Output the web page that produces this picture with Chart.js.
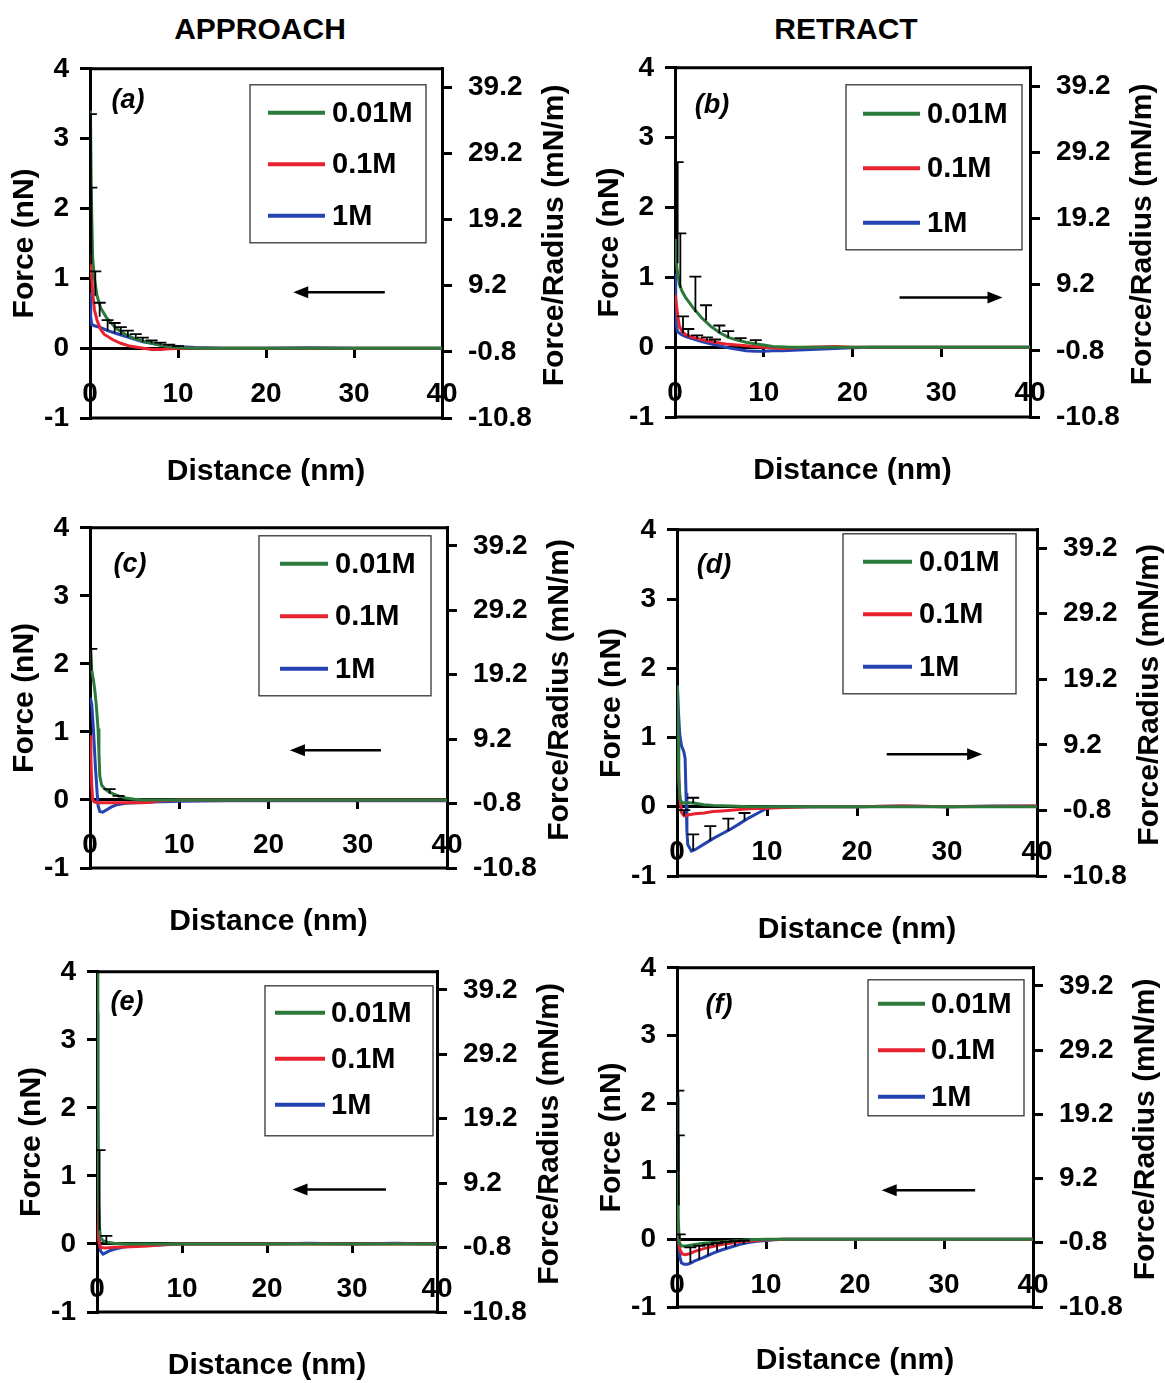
<!DOCTYPE html>
<html>
<head>
<meta charset="utf-8">
<script src="https://cdn.jsdelivr.net/npm/chart.js@4.4.1/dist/chart.umd.min.js"></script>
<style>
  html, body { margin: 0; padding: 0; background: #fff; overflow: hidden; width: 1165px; height: 1383px; }
  canvas { position: absolute; }
  .head { position: absolute; font: bold 30px "Liberation Sans", Arial, sans-serif; color: #000; transform: translateX(-50%); white-space: nowrap; }
</style>
</head>
<body>
<div class="head" style="left:260px; top:12px">APPROACH</div>
<div class="head" style="left:846px; top:12px">RETRACT</div>
<script>
// ---- data ----
const concLabels = ['0.01M', '0.1M', '1M'];
const distTicks = [0, 10, 20, 30, 40];
const forceTicks = [-1, 0, 1, 2, 3, 4];
const radiusTicks = [-10.8, -0.8, 9.2, 19.2, 29.2, 39.2];

// (a) approach
const aGreen = [[0.05,3.4],[0.15,2.2],[0.3,1.3],[0.5,1.0],[0.8,0.75],[1.2,0.58],[1.9,0.43],[3,0.28],[4,0.2],[5,0.14],[6,0.1],[7,0.07],[8,0.04],[9,0.02],[10,0.01],[12,0],[15,0],[20,0],[30,0],[40,0]];
const aRed = [[0.05,1.35],[0.15,1.1],[0.3,0.8],[0.5,0.55],[0.8,0.4],[1.2,0.27],[1.6,0.2],[2.6,0.12],[3.5,0.07],[4.5,0.03],[5.5,0.01],[7,-0.02],[8,-0.02],[9,-0.01],[11,0],[15,0],[20,0],[30,0],[40,0]];
const aBlue = [[0.03,0.8],[0.08,0.45],[0.2,0.34],[0.5,0.32],[1.1,0.3],[2,0.25],[3,0.21],[4,0.17],[5,0.13],[6,0.09],[7,0.07],[8,0.05],[9,0.03],[10.5,0.02],[12,0.01],[15,0],[20,0],[25,0.005],[30,0],[35,0],[40,0]];
const aErr = [[0.1,1.6,3.35],[0.15,1.2,2.3],[0.6,0.75,1.1],[1.1,0.45,0.65],[2,0.25,0.4],[2.8,0.22,0.36],[3.5,0.19,0.3],[4.3,0.16,0.25],[5.2,0.13,0.2],[6,0.09,0.15],[7,0.07,0.11],[8,0.05,0.08],[9,0.03,0.05],[10,0.02,0.03]];

// (b) retract
const bGreen = [[0.03,1.55],[0.1,1.3],[0.25,1.1],[0.5,0.9],[0.8,0.8],[1.2,0.71],[1.6,0.64],[2,0.57],[3,0.42],[4,0.3],[5,0.21],[6,0.14],[7,0.1],[8,0.07],[9,0.05],[10,0.03],[11,0.01],[13,0],[20,0],[30,0],[40,0]];
const bRed = [[0.03,0.75],[0.15,0.62],[0.3,0.45],[0.5,0.3],[0.8,0.22],[1.2,0.18],[2,0.14],[3,0.11],[4,0.08],[5,0.06],[6,0.04],[8,0.02],[10,0],[12,-0.02],[15,0],[18,0.01],[20,0],[25,0],[30,0],[40,0]];
const bBlue = [[0.02,1.05],[0.08,0.6],[0.15,0.3],[0.3,0.22],[0.7,0.18],[1.2,0.15],[2,0.12],[3,0.08],[4,0.05],[5,0.02],[6,-0.01],[7,-0.03],[8,-0.05],[9,-0.06],[10,-0.06],[11,-0.05],[12,-0.05],[14,-0.04],[16,-0.03],[18,-0.02],[20,-0.01],[22,0],[30,0],[40,0]];
const bErr = [[0.3,1.2,2.65],[0.6,0.85,1.63],[0.9,0.2,0.44],[1.5,0.15,0.26],[2.3,0.5,1.01],[2.5,0.12,0.17],[3.5,0.38,0.6],[3.6,0.09,0.14],[4.5,0.06,0.11],[5,0.2,0.31],[6,0.14,0.23],[7.4,0.09,0.13],[9.1,0.05,0.1]];

// (c) approach
const cGreen = [[0.05,2.2],[0.2,1.9],[0.4,1.75],[0.55,1.6],[0.7,1.4],[0.9,1.05],[1.0,0.7],[1.1,0.35],[1.3,0.22],[1.6,0.17],[2,0.13],[2.6,0.09],[3.2,0.06],[4,0.03],[5,0.01],[6,0],[8,0],[10,0],[15,0],[20,0],[30,0],[40,0]];
const cRed = [[0.03,0.95],[0.1,0.6],[0.2,0.2],[0.3,0],[0.5,-0.03],[1,-0.04],[2,-0.04],[4,-0.04],[6,-0.04],[7,-0.03],[8,-0.01],[10,0],[15,0],[20,0],[30,0],[40,0]];
const cBlue = [[0.05,1.5],[0.2,1.4],[0.4,1.0],[0.6,0.5],[0.8,0.1],[0.9,-0.08],[1.1,-0.17],[1.4,-0.18],[1.8,-0.15],[2.3,-0.11],[3,-0.07],[4,-0.05],[5,-0.04],[7,-0.03],[10,-0.02],[15,-0.01],[20,-0.01],[30,-0.01],[40,-0.01]];
const cErr = [[0.15,1.9,2.22],[2.2,0.09,0.16],[3.2,0.04,0.06]];

// (d) retract
const dGreen = [[0.05,1.75],[0.12,1.0],[0.2,0.4],[0.35,0.1],[0.6,0.05],[1,0.06],[2,0.05],[3,0.03],[4,0.02],[6,0.01],[8,0],[10,0],[15,0],[20,0],[25,0],[30,0],[40,0]];
const dRed = [[0.05,1.0],[0.15,0.6],[0.3,0.15],[0.5,-0.08],[0.8,-0.13],[1.2,-0.12],[2,-0.1],[3,-0.09],[4,-0.07],[5,-0.06],[6,-0.05],[7,-0.04],[8,-0.03],[10,-0.02],[12,-0.01],[15,0],[20,0],[25,0.01],[30,0],[40,0.01]];
const dBlue = [[0.05,1.75],[0.15,1.4],[0.3,1.05],[0.5,0.88],[0.75,0.8],[0.9,0.7],[1.0,0.2],[1.1,-0.35],[1.2,-0.55],[1.6,-0.64],[2,-0.62],[3,-0.54],[4,-0.46],[5,-0.39],[6,-0.32],[7,-0.24],[8,-0.16],[9,-0.09],[10,-0.02],[11,0],[15,0],[20,0],[25,0.01],[30,0],[35,0.01],[40,0.01]];
const dErr = [[0.8,-0.13,-0.05],[1.8,0.05,0.13],[1.8,-0.63,-0.4],[3.7,-0.49,-0.28],[5.7,-0.35,-0.17],[7.5,-0.2,-0.09]];

// (e) approach
const eGreen = [[0.05,4.0],[0.1,2.5],[0.15,1.0],[0.25,0.3],[0.4,0.1],[0.7,0.05],[1,0.03],[2,0.01],[3,0],[5,0],[10,0],[15,0],[20,0],[30,0],[40,0]];
const eRed = [[0.05,0.75],[0.12,0.4],[0.2,0.05],[0.4,-0.05],[1,-0.06],[2,-0.05],[4,-0.04],[6,-0.03],[7,-0.02],[9,0],[15,0],[20,0],[30,0],[40,0]];
const eBlue = [[0.05,3.4],[0.1,2.0],[0.15,0.8],[0.25,0.1],[0.4,-0.1],[0.7,-0.15],[1,-0.13],[1.5,-0.1],[2,-0.08],[3,-0.05],[4,-0.03],[6,-0.02],[8,-0.01],[10,0],[15,0],[20,0],[25,0.01],[30,0],[35,0.01],[40,0]];
const eErr = [[0.3,0.2,1.38],[1.1,0,0.12]];

// (f) retract
const fGreen = [[0.05,2.1],[0.1,1.2],[0.15,0.3],[0.25,-0.05],[0.5,-0.1],[1,-0.1],[2,-0.08],[3,-0.06],[4,-0.05],[5,-0.04],[6,-0.03],[7,-0.02],[8,-0.01],[10,0],[15,0],[20,0],[30,0],[40,0]];
const fRed = [[0.05,0.3],[0.15,0.1],[0.3,-0.15],[0.6,-0.22],[1,-0.23],[1.5,-0.21],[2,-0.18],[3,-0.14],[4,-0.11],[5,-0.08],[6,-0.06],[7,-0.04],[8,-0.03],[9,-0.02],[10,-0.01],[12,0],[15,0],[20,0],[30,0],[40,0]];
const fBlue = [[0.05,0.2],[0.15,0],[0.3,-0.25],[0.5,-0.35],[0.8,-0.37],[1.2,-0.37],[1.6,-0.35],[2,-0.32],[3,-0.27],[3.5,-0.24],[4,-0.21],[5,-0.16],[6,-0.12],[7,-0.08],[8,-0.05],[9,-0.03],[10,-0.02],[11,-0.01],[12,0],[15,0],[20,0],[30,0],[40,0]];
const fErr = [[0.15,1.0,2.19],[0.2,0.5,1.53],[0.3,0,0.07],[1.5,-0.35,-0.12],[2.5,-0.3,-0.1],[3.5,-0.24,-0.08],[4.5,-0.18,-0.06],[5.5,-0.14,-0.04],[6.5,-0.1,-0.03],[7.5,-0.07,-0.02]];

// ---- styling / layout ----
const seriesColors = ['#2b7a3b', '#e8212e', '#2443b0'];
const FONT = '"Liberation Sans", Arial, sans-serif';
const tickFont = { family: FONT, size: 28, weight: 'bold' };
const titleFont = { family: FONT, size: 30, weight: 'bold' };

// plot rectangle (px on page), legend box / label offsets relative to plot area, arrow in data units
// legend.line = [line start, line end, text x] measured from the box's left edge
const panels = [
  { tag: '(a)', L: 90,  T: 66,  R: 442,  B: 418,  series: [aGreen, aRed, aBlue], err: aErr,
    legend: { x: 160, y: 16, w: 176, h: 158, first: 28, gap: 51.5, line: [18, 75, 82] }, label: [38, 32], arrow: [33.5, 23.1, 0.8] },
  { tag: '(b)', L: 675, T: 65,  R: 1030, B: 417,  series: [bGreen, bRed, bBlue], err: bErr,
    legend: { x: 171, y: 17, w: 176, h: 165, first: 29, gap: 54.5, line: [17, 74, 81] }, label: [37, 38], arrow: [25.3, 36.9, 0.71] },
  { tag: '(c)', L: 90,  T: 525, R: 447,  B: 868,  series: [cGreen, cRed, cBlue], err: cErr,
    legend: { x: 169, y: 8,  w: 172, h: 160, first: 28, gap: 52.5, line: [21, 69, 76] }, label: [40, 37], arrow: [32.6, 22.4, 0.73] },
  { tag: '(d)', L: 677, T: 527, R: 1037, B: 876,  series: [dGreen, dRed, dBlue], err: dErr,
    legend: { x: 166, y: 4,  w: 173, h: 160, first: 28, gap: 52.5, line: [20, 69, 76] }, label: [37, 36], arrow: [23.3, 33.9, 0.76] },
  { tag: '(e)', L: 97,  T: 969, R: 437,  B: 1312, series: [eGreen, eRed, eBlue], err: eErr,
    legend: { x: 168, y: 14, w: 168, h: 150, first: 27, gap: 46, line: [10, 60, 66] },   label: [30, 31], arrow: [34, 23, 0.8] },
  { tag: '(f)', L: 677, T: 965, R: 1033, B: 1307, series: [fGreen, fRed, fBlue], err: fErr,
    legend: { x: 191, y: 12, w: 156, h: 136, first: 24, gap: 46.5, line: [10, 57, 63] }, label: [42, 38], arrow: [33.5, 23, 0.72] }
];

// draws frame top/bottom lines, error bars, legend box, arrow, panel tag and right axis title
const decorPlugin = {
  id: 'decor',
  afterDatasetsDraw(chart, args, opts) {
    const { ctx, chartArea: ca, scales: { x, y } } = chart;
    ctx.save();
    ctx.beginPath();
    ctx.rect(ca.left, ca.top, ca.right - ca.left, ca.bottom - ca.top);
    ctx.clip();
    ctx.strokeStyle = '#000';
    ctx.lineWidth = 1.8;
    opts.err.forEach(([xv, lo, hi]) => {
      const px = x.getPixelForValue(xv);
      const p1 = y.getPixelForValue(lo), p2 = y.getPixelForValue(hi);
      ctx.beginPath();
      ctx.moveTo(px, p1); ctx.lineTo(px, p2);
      ctx.moveTo(px - 6, p2); ctx.lineTo(px + 6, p2);
      ctx.stroke();
    });
    ctx.restore();
  },
  afterDraw(chart, args, opts) {
    const { ctx, chartArea: ca, scales: { x, y } } = chart;
    ctx.save();
    // frame
    ctx.strokeStyle = '#000';
    ctx.lineWidth = 3;
    ctx.beginPath();
    ctx.moveTo(ca.left, ca.top); ctx.lineTo(ca.right, ca.top);
    ctx.moveTo(ca.left, ca.bottom); ctx.lineTo(ca.right, ca.bottom);
    ctx.stroke();

    // arrow
    const [ax1, ax2, ay] = opts.arrow;
    const p1 = x.getPixelForValue(ax1), p2 = x.getPixelForValue(ax2), py = y.getPixelForValue(ay);
    const dir = Math.sign(p2 - p1);
    ctx.lineWidth = 2.5;
    ctx.beginPath();
    ctx.moveTo(p1, py); ctx.lineTo(p2 - dir * 10, py);
    ctx.stroke();
    ctx.fillStyle = '#000';
    ctx.beginPath();
    ctx.moveTo(p2, py);
    ctx.lineTo(p2 - dir * 15, py - 6);
    ctx.lineTo(p2 - dir * 15, py + 6);
    ctx.closePath();
    ctx.fill();

    // legend box
    const lg = opts.legend;
    const bx = ca.left + lg.x, by = ca.top + lg.y;
    ctx.lineWidth = 1.3;
    ctx.strokeStyle = '#333';
    ctx.strokeRect(bx, by, lg.w, lg.h);
    ctx.font = 'bold 29px ' + FONT;
    ctx.textBaseline = 'middle';
    ctx.textAlign = 'left';
    chart.data.datasets.forEach((ds, i) => {
      const ly = by + lg.first + i * lg.gap;
      ctx.strokeStyle = ds.borderColor;
      ctx.lineWidth = 4;
      ctx.beginPath();
      ctx.moveTo(bx + lg.line[0], ly); ctx.lineTo(bx + lg.line[1], ly);
      ctx.stroke();
      ctx.fillStyle = '#000';
      ctx.fillText(ds.label, bx + lg.line[2], ly + 1);
    });

    // panel tag
    ctx.font = 'italic bold 27px ' + FONT;
    ctx.textAlign = 'center';
    ctx.fillText(opts.tag, ca.left + opts.label[0], ca.top + opts.label[1]);

    // right axis title, reading bottom to top
    ctx.translate(ca.right + 113, (ca.top + ca.bottom) / 2 - 8);
    ctx.rotate(-Math.PI / 2);
    ctx.font = 'bold 30px ' + FONT;
    ctx.fillText('Force/Radius (mN/m)', 0, 0);
    ctx.restore();
  }
};

function setTicks(values) {
  return scale => { scale.ticks = values.map(v => ({ value: v })); };
}

panels.forEach(p => {
  const canvas = document.createElement('canvas');
  canvas.width = (p.R - p.L) + 225;
  canvas.height = (p.B - p.T) + 110;
  canvas.style.left = (p.L - 90) + 'px';
  canvas.style.top = (p.T - 30) + 'px';
  document.body.appendChild(canvas);

  new Chart(canvas, {
    type: 'line',
    data: {
      datasets: p.series.map((pts, i) => ({
        label: concLabels[i],
        data: pts.map(([x, y]) => ({ x, y })),
        borderColor: seriesColors[i],
        borderWidth: 3,
        pointRadius: 0,
        tension: 0,
        fill: false,
        xAxisID: 'x',
        yAxisID: 'y'
      }))
    },
    options: {
      responsive: false,
      animation: false,
      layout: { padding: { top: 30, left: 0, right: 0, bottom: 0 } },
      plugins: {
        legend: { display: false },
        tooltip: { enabled: false },
        decor: { err: p.err, legend: p.legend, tag: p.tag, label: p.label, arrow: p.arrow }
      },
      scales: {
        x: {
          type: 'linear', position: { y: 0 }, min: 0, max: 40,
          afterBuildTicks: setTicks(distTicks),
          grid: { drawOnChartArea: false, tickLength: 8, lineWidth: 3, color: '#000' },
          border: { color: '#000', width: 3 },
          ticks: { font: tickFont, color: '#000', padding: 21, autoSkip: false, maxRotation: 0 }
        },
        xb: {
          type: 'linear', position: 'bottom', min: 0, max: 40,
          afterFit: s => { s.height = 80; },
          ticks: { display: false },
          grid: { display: false },
          border: { display: false },
          title: { display: true, text: 'Distance (nm)', font: titleFont, color: '#000', padding: { top: 0, bottom: 8 } }
        },
        y: {
          type: 'linear', position: 'left', min: -1, max: 4,
          afterBuildTicks: setTicks(forceTicks),
          afterFit: s => { s.width = 90; },
          grid: { drawOnChartArea: false, tickLength: 10, lineWidth: 3, color: '#000' },
          border: { color: '#000', width: 3 },
          ticks: { font: tickFont, color: '#000', padding: 11 },
          title: { display: true, text: 'Force (nN)', font: titleFont, color: '#000', padding: { top: 7, bottom: 0 } }
        },
        y2: {
          type: 'linear', position: 'right', min: -10.8, max: 42,
          afterBuildTicks: setTicks(radiusTicks),
          afterFit: s => { s.width = 135; },
          grid: { drawOnChartArea: false, tickLength: 10, lineWidth: 3, color: '#000' },
          border: { color: '#000', width: 3 },
          ticks: { font: tickFont, color: '#000', padding: 16, callback: v => v.toFixed(1) }
        }
      }
    },
    plugins: [decorPlugin]
  });
});
</script>
</body>
</html>
